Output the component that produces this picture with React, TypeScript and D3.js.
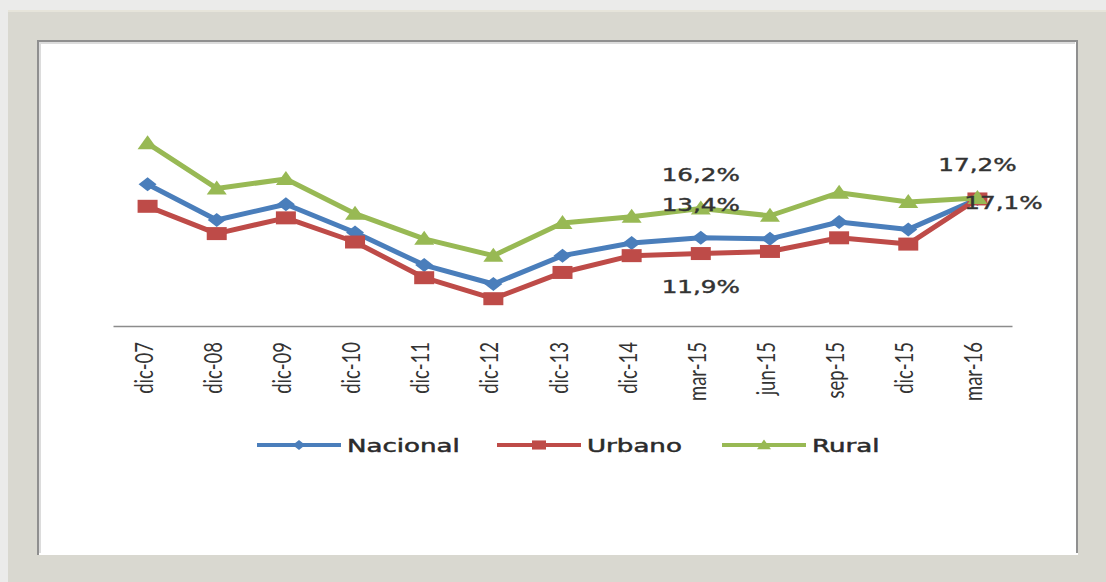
import { useRef, useEffect } from "react";
import * as d3 from "d3";

// values (percent)
const categories = [
  "dic-07", "dic-08", "dic-09", "dic-10", "dic-11", "dic-12", "dic-13",
  "dic-14", "mar-15", "jun-15", "sep-15", "dic-15", "mar-16",
];
const nacional = [18.5, 15.1, 16.6, 13.9, 10.8, 9.0, 11.7, 12.9, 13.4, 13.3, 14.9, 14.2, 17.1];
const urbano = [16.4, 13.8, 15.3, 13.0, 9.6, 7.6, 10.1, 11.7, 11.9, 12.1, 13.4, 12.8, 17.1];
const rural = [22.4, 18.1, 19.0, 15.7, 13.3, 11.7, 14.8, 15.4, 16.2, 15.5, 17.7, 16.8, 17.2];
const seriesNames = ["Nacional", "Urbano", "Rural"];
const pointLabels = [
  { series: "Rural", category: "mar-15", text: "16,2%", place: "above" },
  { series: "Nacional", category: "mar-15", text: "13,4%", place: "above" },
  { series: "Urbano", category: "mar-15", text: "11,9%", place: "below" },
  { series: "Rural", category: "mar-16", text: "17,2%", place: "above" },
  { series: "Nacional", category: "mar-16", text: "17,1%", place: "right" },
];

const W = 1106;
const H = 582;
const SX = 1.45; // the picture is stretched sideways
const colors = ["#4a7ebb", "#be4b48", "#98b954"];
const labelFont = "'DejaVu Sans', Verdana, sans-serif";

function markerPath(kind: number, s = 1) {
  if (kind === 0) {
    return `M0,${-7 * s}L${9 * s},0L0,${7 * s}L${-9 * s},0Z`;
  }
  if (kind === 1) {
    return `M${-10 * s},${-6.5 * s}H${10 * s}V${6.5 * s}H${-10 * s}Z`;
  }
  return `M0,${-8 * s}L${10 * s},${6 * s}L${-10 * s},${6 * s}Z`;
}

export default function App() {
  const ref = useRef<SVGSVGElement>(null);

  useEffect(() => {
    if (!ref.current) return;
    const svg = d3.select(ref.current);
    svg.selectAll("*").remove();

    // frame
    svg.append("rect").attr("width", W).attr("height", H).attr("fill", "#ebebea");
    svg.append("rect").attr("x", 8).attr("y", 10).attr("width", W - 8).attr("height", H - 10).attr("fill", "#d9d8d0");
    svg.append("line").attr("x1", 8).attr("x2", W).attr("y1", 11).attr("y2", 11).attr("stroke", "#e6e4da").attr("stroke-width", 2);
    svg.append("rect").attr("x", 37).attr("y", 40).attr("width", 1041).attr("height", 515).attr("fill", "#ffffff");
    svg.append("path").attr("d", "M38,555V41H1077V553").attr("fill", "none").attr("stroke", "#8f8f8f").attr("stroke-width", 2);
    svg.append("path").attr("d", "M40,553V43H1075").attr("fill", "none").attr("stroke", "#dcdcdc").attr("stroke-width", 2);

    const x = d3.scaleBand<string>().domain(categories).range([113, 1012]).paddingInner(0).paddingOuter(0);
    const cx = (c: string) => (x(c) ?? 0) + x.bandwidth() / 2;
    const y = d3.scaleLinear().domain([5, 30]).range([326, 326 - 25 * 10.5]);

    // category axis
    svg.append("g")
      .attr("transform", `translate(0,${y(5)})`)
      .call(d3.axisBottom(x).tickSize(0).tickPadding(0))
      .call((g) => g.attr("font-size", null).attr("font-family", null))
      .call((g) => g.select(".domain").attr("stroke", "#8c8c8c").attr("stroke-width", 1.5))
      .call((g) =>
        g.selectAll(".tick text")
          .attr("transform", "translate(5,16) rotate(-90) scale(1,1.3)")
          .attr("text-anchor", "end")
          .attr("dy", "0")
          .attr("y", 0)
          .attr("fill", "#333333")
          .attr("font-family", "Lato, 'Open Sans', sans-serif")
          .attr("font-size", 18.5)
      );

    const data = [nacional, urbano, rural];
    const line = d3.line<number>().x((_, i) => cx(categories[i])).y((d) => y(d));

    data.forEach((vals, k) => {
      svg.append("path")
        .attr("d", line(vals))
        .attr("fill", "none")
        .attr("stroke", colors[k])
        .attr("stroke-width", 5)
        .attr("stroke-linejoin", "round");
      svg.append("g")
        .selectAll("path")
        .data(vals)
        .join("path")
        .attr("transform", (d, i) => `translate(${cx(categories[i])},${y(d)})`)
        .attr("d", markerPath(k))
        .attr("fill", colors[k]);
    });

    // data labels
    svg.append("g")
      .selectAll("text")
      .data(pointLabels)
      .join("text")
      .attr("transform", (d) => {
        const k = seriesNames.indexOf(d.series);
        const i = categories.indexOf(d.category);
        const px = cx(d.category);
        const py = y(data[k][i]);
        if (d.place === "above") return `translate(${px},${py - 27}) scale(${SX},1)`;
        if (d.place === "below") return `translate(${px},${py + 39}) scale(${SX},1)`;
        return `translate(${px + 26},${py + 10}) scale(${SX},1)`;
      })
      .attr("text-anchor", "middle")
      .attr("font-family", labelFont)
      .attr("font-size", 17)
      .attr("fill", "#333333")
      .attr("stroke", "#333333")
      .attr("stroke-width", 0.4)
      .text((d) => d.text);

    // legend
    const legendX = [257, 497, 722];
    const legend = svg.append("g").attr("transform", "translate(0,445)");
    seriesNames.forEach((name, k) => {
      const g = legend.append("g").attr("transform", `translate(${legendX[k]},0)`);
      g.append("line").attr("x1", 0).attr("x2", 84).attr("stroke", colors[k]).attr("stroke-width", 4);
      g.append("path").attr("transform", "translate(42,0)").attr("d", markerPath(k, 0.7)).attr("fill", colors[k]);
      g.append("text")
        .attr("transform", `translate(90,7) scale(${SX},1)`)
        .attr("font-family", labelFont)
        .attr("font-size", 18)
        .attr("fill", "#2b2b2b")
        .attr("stroke", "#2b2b2b")
        .attr("stroke-width", 0.5)
        .text(name);
    });
  }, []);

  return (
    <svg
      ref={ref}
      width={W}
      height={H}
      viewBox={`0 0 ${W} ${H}`}
      style={{ position: "absolute", left: 0, top: 0, display: "block" }}
    />
  );
}
